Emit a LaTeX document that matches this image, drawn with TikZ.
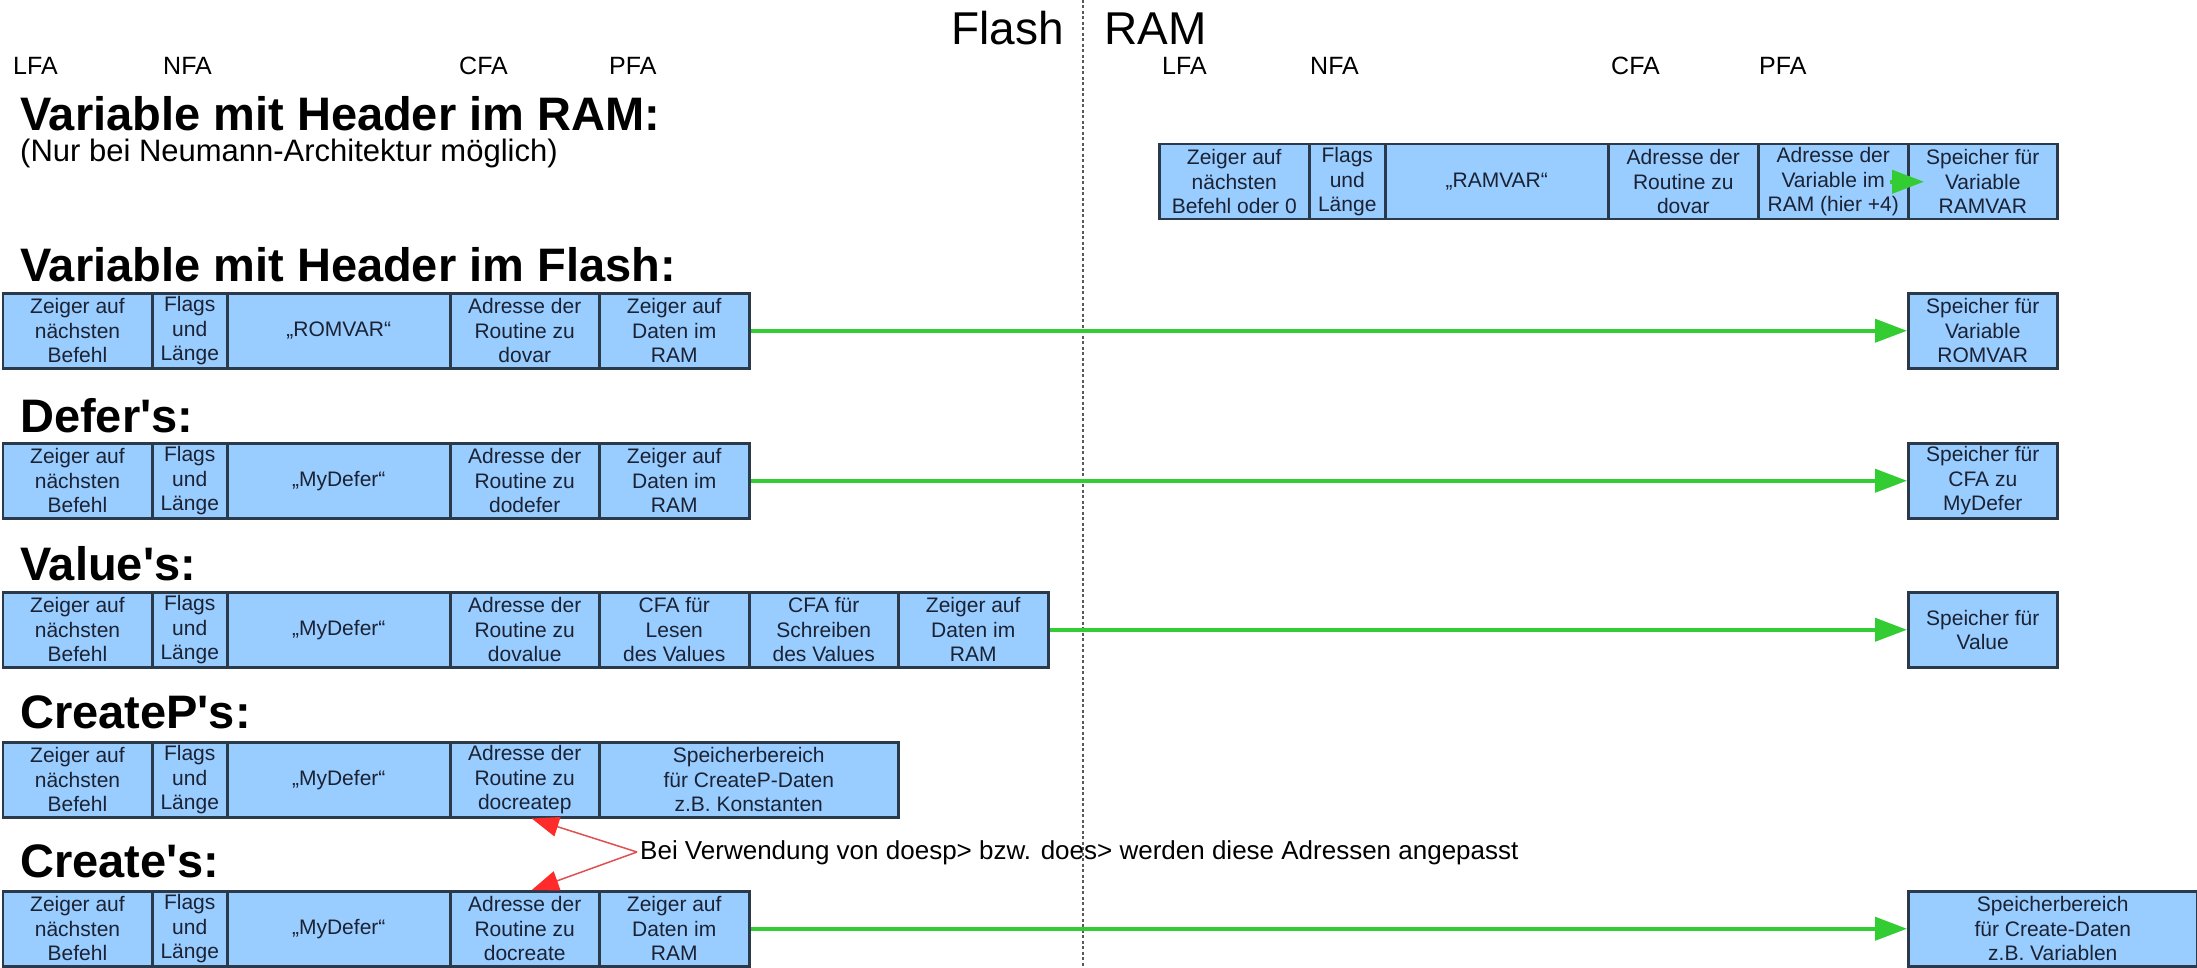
\documentclass[tikz,border=0pt]{standalone}
\usepackage{fontspec}
\setmainfont{Liberation Sans}[Ligatures=TeXOff]
\usetikzlibrary{arrows.meta}
\definecolor{cellblue}{HTML}{99CCFF}
\definecolor{cellline}{HTML}{2B3A4A}
\definecolor{celltextc}{HTML}{1A2233}
\definecolor{arrowgreen}{HTML}{33CC33}
\definecolor{arrowred}{HTML}{FF2A2A}
\definecolor{linered}{HTML}{E05050}
\newcommand\cellfont{\fontsize{21}{24.5}\selectfont}
\newcommand\headfont{\fontsize{47}{52}\selectfont\bfseries}
\newcommand\labfont{\fontsize{25}{30}\selectfont}
\newcommand\mycell[5]{\node[cell,minimum width=#4pt] (#1) at (#2,#3) {#5};}
\tikzset{
  cell/.style={draw=cellline, line width=2.5pt, fill=cellblue, minimum height=75pt,
    inner sep=0pt, anchor=north west, align=center, font=\cellfont, text=celltextc},
  head/.style={anchor=base west, inner sep=0pt, font=\headfont},
  lab/.style={anchor=base west, inner sep=0pt, font=\labfont},
  greenarrow/.style={draw=arrowgreen, line width=4pt,
    -{Triangle[length=32pt,width=23pt,color=arrowgreen]}},
  redarrow/.style={draw=linered, line width=1.5pt,
    -{Triangle[length=27pt,width=20pt,color=arrowred]}},
  divider/.style={draw=black!65, line width=1.5pt, dash pattern=on 3pt off 2.5pt}
}
\begin{document}
\begin{tikzpicture}[x=1pt,y=-1pt]
\useasboundingbox (0,0) rectangle (2197,968);
% divider
\coordinate (dtop) at (1083,0);
\coordinate (dbot) at (1083,968);
\draw[divider] (dtop) -- (dbot);
\node[anchor=base east, inner sep=0pt, font=\fontsize{46}{52}\selectfont] (flash) at (1064,45) {Flash};
\node[anchor=base west, inner sep=0pt, font=\fontsize{46}{52}\selectfont] (ram) at (1104,45) {RAM};
% field labels
\node[lab] (l1) at (13,75) {LFA};
\node[lab] (l2) at (163,75) {NFA};
\node[lab] (l3) at (459,75) {CFA};
\node[lab] (l4) at (609,75) {PFA};
\node[lab] (l5) at (1162,75) {LFA};
\node[lab] (l6) at (1310,75) {NFA};
\node[lab] (l7) at (1611,75) {CFA};
\node[lab] (l8) at (1759,75) {PFA};
% headings
\node[head] (h1) at (20,131) {Variable mit Header im RAM:};
\node[anchor=base west, inner sep=0pt, font=\fontsize{31}{36}\selectfont] (h1s) at (20,162) {(Nur bei Neumann-Architektur möglich)};
\node[head] (h2) at (20,281) {Variable mit Header im Flash:};
\node[head] (h3) at (20,432) {Defer's:};
\node[head] (h4) at (20,580) {Value's:};
\node[head] (h5) at (20,728) {CreateP's:};
\node[head] (h6) at (20,877) {Create's:};
% RAM row
\mycell{r1}{1158}{143}{150}{Zeiger auf\\nächsten\\Befehl oder 0}
\mycell{r2}{1308}{143}{76}{Flags\\und\\Länge}
\mycell{r3}{1384}{143}{223}{„RAMVAR“}
\mycell{r4}{1607}{143}{150}{Adresse der\\Routine zu\\dovar}
\mycell{r5}{1757}{143}{150}{Adresse der\\Variable im\\RAM (hier +4)}
\mycell{r6}{1907}{143}{149}{Speicher für\\Variable\\RAMVAR}
% Flash row
\mycell{f1}{1.5}{292}{149.5}{Zeiger auf\\nächsten\\Befehl}
\mycell{f2}{151}{292}{75}{Flags\\und\\Länge}
\mycell{f3}{226}{292}{223}{„ROMVAR“}
\mycell{f4}{449}{292}{149}{Adresse der\\Routine zu\\dovar}
\mycell{f5}{598}{292}{150}{Zeiger auf\\Daten im\\RAM}
\mycell{ft}{1907}{292}{149}{Speicher für\\Variable\\ROMVAR}
% Defer row
\mycell{d1}{1.5}{442}{149.5}{Zeiger auf\\nächsten\\Befehl}
\mycell{d2}{151}{442}{75}{Flags\\und\\Länge}
\mycell{d3}{226}{442}{223}{„MyDefer“}
\mycell{d4}{449}{442}{149}{Adresse der\\Routine zu\\dodefer}
\mycell{d5}{598}{442}{150}{Zeiger auf\\Daten im\\RAM}
\mycell{dt}{1907}{442}{149}{Speicher für\\CFA zu\\MyDefer}
% Value row
\mycell{v1}{1.5}{591}{149.5}{Zeiger auf\\nächsten\\Befehl}
\mycell{v2}{151}{591}{75}{Flags\\und\\Länge}
\mycell{v3}{226}{591}{223}{„MyDefer“}
\mycell{v4}{449}{591}{149}{Adresse der\\Routine zu\\dovalue}
\mycell{v5}{598}{591}{150}{CFA für\\Lesen\\des Values}
\mycell{v6}{748}{591}{149}{CFA für\\Schreiben\\des Values}
\mycell{v7}{897}{591}{150}{Zeiger auf\\Daten im\\RAM}
\mycell{vt}{1907}{591}{149}{Speicher für\\Value}
% CreateP row
\mycell{p1}{1.5}{741}{149.5}{Zeiger auf\\nächsten\\Befehl}
\mycell{p2}{151}{741}{75}{Flags\\und\\Länge}
\mycell{p3}{226}{741}{223}{„MyDefer“}
\mycell{p4}{449}{741}{149}{Adresse der\\Routine zu\\docreatep}
\mycell{p5}{598}{741}{299}{Speicherbereich\\für CreateP-Daten\\z.B. Konstanten}
% Create row
\mycell{c1}{1.5}{890}{149.5}{Zeiger auf\\nächsten\\Befehl}
\mycell{c2}{151}{890}{75}{Flags\\und\\Länge}
\mycell{c3}{226}{890}{223}{„MyDefer“}
\mycell{c4}{449}{890}{149}{Adresse der\\Routine zu\\docreate}
\mycell{c5}{598}{890}{150}{Zeiger auf\\Daten im\\RAM}
\mycell{ct}{1907}{890}{289}{Speicherbereich\\für Create-Daten\\z.B. Variablen}
% green connectors
\draw[greenarrow] (f5.east) -- (ft.west);
\draw[greenarrow] (d5.east) -- (dt.west);
\draw[greenarrow] (v7.east) -- (vt.west);
\draw[greenarrow] (c5.east) -- (ct.west);
\draw[greenarrow] ([xshift=-17pt]r6.west) -- ([xshift=17pt]r6.west);
% annotation
\node[anchor=base west, inner sep=0pt, font=\fontsize{26}{30}\selectfont] (note) at (640,859) {Bei Verwendung von doesp> bzw. does> werden diese Adressen angepasst};
\coordinate (J) at (637,852);
\draw[redarrow] (J) -- ([xshift=7pt]p4.south);
\draw[redarrow] (J) -- ([xshift=7pt]c4.north);
\end{tikzpicture}
\end{document}
